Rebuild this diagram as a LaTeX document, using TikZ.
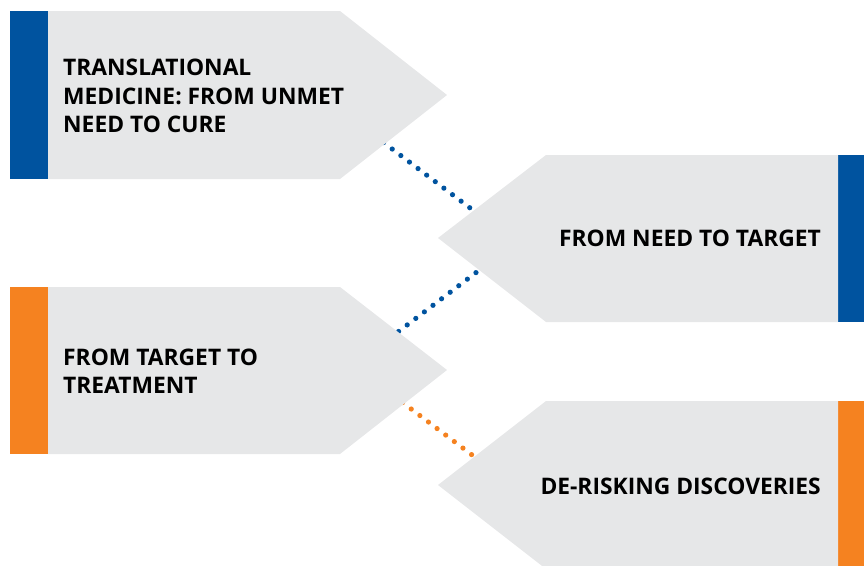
\documentclass[tikz,border=0pt]{standalone}
\usepackage{fontspec}
\setsansfont{Open Sans}
\definecolor{azul}{HTML}{00539F}
\definecolor{naranja}{HTML}{F58220}
\definecolor{gris}{HTML}{E6E7E8}
\tikzset{
  flecha/.style={fill=gris},
  rotulo/.style={font=\sffamily\bfseries\fontsize{22.8}{28.5}\selectfont, text=black, align=left, inner sep=0pt},
  puntos/.style={line width=5.2pt, line cap=round, dash pattern=on 0pt off 10.8pt},
}
\begin{document}
\begin{tikzpicture}[x=1pt, y=-1pt]
        \clip (0,0) rectangle (864,565);
        % Puntos de union
        \coordinate (u1a) at (375,136);
        \coordinate (u1b) at (482,217);
        \coordinate (u2a) at (390,338);
        \coordinate (u2b) at (486,265);
        \coordinate (u3a) at (394,396);
        \coordinate (u3b) at (484,464);
        \draw[puntos, azul] (u1a) -- (u1b);
        \draw[puntos, azul] (u2a) -- (u2b);
        \draw[puntos, naranja] (u3a) -- (u3b);

        % Flecha 1 (superior izquierda)
        \fill[azul] (10,11) rectangle (48,179);
        \fill[flecha] (48,11) -- (340,11) -- (447,95) -- (340,179) -- (48,179) -- cycle;
        \node[rotulo, anchor=west] (t1) at (63,96) {TRANSLATIONAL\\MEDICINE: FROM UNMET\\NEED TO CURE};

        % Flecha 2 (derecha)
        \fill[azul] (838,155) rectangle (864,322);
        \fill[flecha] (838,155) -- (546,155) -- (438,238) -- (546,322) -- (838,322) -- cycle;
        \node[rotulo, anchor=east] (t2) at (821,238) {FROM NEED TO TARGET};

        % Flecha 3 (inferior izquierda)
        \fill[naranja] (10,287) rectangle (48,454);
        \fill[flecha] (48,287) -- (340,287) -- (447,370) -- (340,454) -- (48,454) -- cycle;
        \node[rotulo, anchor=west] (t3) at (63,371) {FROM TARGET TO\\TREATMENT};

        % Flecha 4 (derecha, abajo)
        \fill[naranja] (838,401) rectangle (864,569);
        \fill[flecha] (838,401) -- (546,401) -- (438,485) -- (546,569) -- (838,569) -- cycle;
        \node[rotulo, anchor=east] (t4) at (821,486) {DE-RISKING DISCOVERIES};
    \end{tikzpicture}
\end{document}
